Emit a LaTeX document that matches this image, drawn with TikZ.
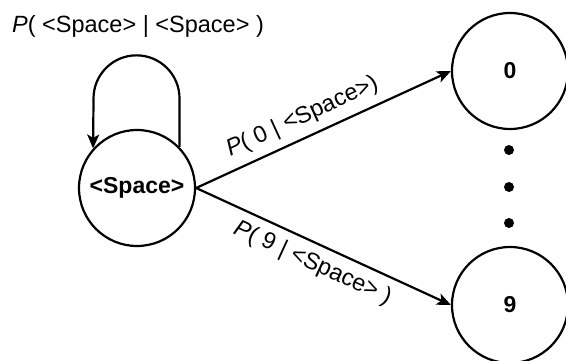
\documentclass[tikz,border=0pt]{standalone}
\usepackage{fontspec}
\setmainfont{Liberation Sans}
\usetikzlibrary{arrows.meta}
\tikzset{
  state/.style={circle, draw, line width=2.2pt, minimum size=116pt, inner sep=0pt,
    font=\fontsize{23}{27}\selectfont\bfseries},
  trans/.style={line width=2.2pt, -{Stealth[length=14pt,width=12pt,inset=3.5pt]}},
  prob/.style={font=\fontsize{23.5}{27}\selectfont, inner sep=0pt},
  ellip/.style={circle, fill, minimum size=10pt, inner sep=0pt}
}
\begin{document}
\begin{tikzpicture}[x=1pt,y=-1pt]
  \clip (0,0) rectangle (566,361);
  \useasboundingbox (0,0) rectangle (566,361);

  % states
  \node[state] (sp) at (137,188) {<Space>};
  \node[state] (n0) at (510,71) {0};
  \node[state] (n9) at (510,305) {9};

  % dots between the digit states
  \node[ellip] (d1) at (509,150) {};
  \node[ellip] (d2) at (509,187) {};
  \node[ellip] (d3) at (509,223) {};

  % self loop on <Space>
  \draw[trans] (sp.44.6) -- ++(0,-48.6) arc[start angle=0, end angle=-180, radius=43] -- (sp.138);
  \node[prob, anchor=base west] (loopp) at (12,33) {\textit{P}( <Space> | <Space> )};

  % transitions to the digits
  \draw[trans] (sp.east) -- node[prob, pos=0.45, sloped, above=8pt] (p0) {\textit{P}( 0 | <Space>)} (n0.west);
  \draw[trans] (sp.east) -- node[prob, pos=0.49, sloped, below=8pt] (p9) {\textit{P}( 9 | <Space> )} (n9.west);
\end{tikzpicture}
\end{document}
